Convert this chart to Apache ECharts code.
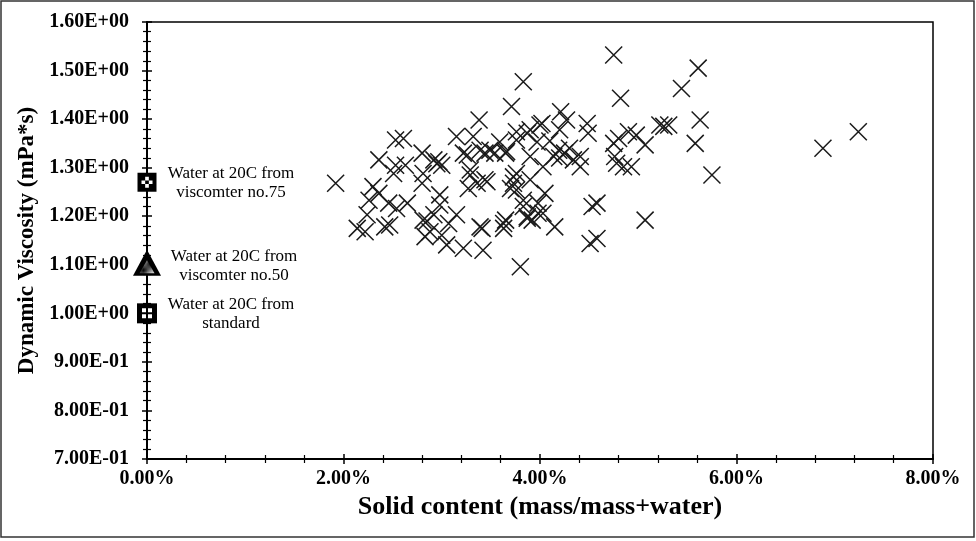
<!DOCTYPE html>
<html>
<head>
<meta charset="utf-8">
<script src="https://cdn.jsdelivr.net/npm/echarts@6/dist/echarts.min.js"></script>
<style>html,body{margin:0;padding:0;background:#fff;}#c{width:976px;height:541px;}</style>
</head>
<body>
<div id="c"></div>
<script>
// Solid content (%) and dynamic viscosity (mPa*s) of samples
const solidContent = [1.92,2.14,2.22,2.24,2.26,2.30,2.36,2.36,2.42,2.47,2.46,2.51,2.53,2.54,2.53,2.61,2.63,2.65,2.80,2.80,2.81,2.83,2.81,2.85,2.88,2.92,2.95,2.97,3.00,2.92,2.98,2.98,3.00,3.05,3.07,3.15,3.15,3.22,3.22,3.26,3.27,3.29,3.29,3.32,3.36,3.38,3.39,3.41,3.42,3.44,3.44,3.46,3.49,3.39,3.54,3.59,3.63,3.63,3.65,3.65,3.66,3.70,3.73,3.73,3.71,3.76,3.76,3.76,3.76,3.80,3.83,3.83,3.83,3.87,3.87,3.87,3.90,3.90,3.90,3.92,3.97,3.98,3.98,4.00,4.02,4.03,4.03,4.05,4.14,4.15,4.19,4.20,4.21,4.27,4.25,4.20,4.30,4.10,4.34,4.41,4.41,4.48,4.49,4.51,4.53,4.58,4.58,4.75,4.75,4.76,4.78,4.80,4.82,4.85,4.90,4.93,4.98,5.07,5.07,5.22,5.26,5.31,5.44,5.58,5.61,5.63,5.75,6.88,7.24];
const viscosity = [1.268,1.175,1.168,1.203,1.233,1.261,1.247,1.316,1.178,1.182,1.227,1.288,1.305,1.216,1.357,1.360,1.305,1.227,1.330,1.268,1.192,1.158,1.288,1.190,1.168,1.316,1.308,1.312,1.305,1.203,1.244,1.223,1.161,1.141,1.185,1.203,1.364,1.330,1.134,1.326,1.257,1.285,1.295,1.364,1.268,1.398,1.178,1.175,1.130,1.330,1.275,1.271,1.336,1.336,1.330,1.353,1.175,1.185,1.192,1.330,1.333,1.257,1.281,1.268,1.426,1.374,1.357,1.288,1.254,1.096,1.477,1.233,1.220,1.371,1.199,1.196,1.378,1.323,1.275,1.192,1.353,1.227,1.206,1.388,1.391,1.302,1.206,1.247,1.323,1.178,1.336,1.378,1.415,1.398,1.330,1.320,1.340,1.355,1.316,1.302,1.323,1.391,1.371,1.144,1.220,1.227,1.154,1.532,1.350,1.323,1.309,1.360,1.443,1.302,1.374,1.302,1.367,1.347,1.192,1.388,1.385,1.388,1.463,1.350,1.505,1.398,1.285,1.340,1.374];

// Reference water measurements at 0% solid content
const refX = [0, 0, 0];
const refY = [1.27, 1.10, 1.00];
const refLabels = ['Water at 20C from\nviscomter no.75', 'Water at 20C from\nviscomter no.50', 'Water at 20C from\nstandard'];

// Axis ticks
const xTicks = [0, 2, 4, 6, 8];
const yTicks = [0.7, 0.8, 0.9, 1.0, 1.1, 1.2, 1.3, 1.4, 1.5, 1.6];

function patternCanvas() {
  const c = document.createElement('canvas');
  c.width = 5; c.height = 5;
  const g = c.getContext('2d');
  g.fillStyle = '#fff'; g.fillRect(0, 0, 5, 5);
  g.strokeStyle = '#000'; g.lineWidth = 1.3;
  g.beginPath();
  g.moveTo(-1, 6); g.lineTo(6, -1);
  g.moveTo(-1, 1); g.lineTo(1, -1);
  g.moveTo(4, 6); g.lineTo(6, 4);
  g.stroke();
  return c;
}

function fmtY(v) {
  v = Math.round(v * 1e10) / 1e10;
  const e = Math.floor(Math.log10(v));
  const m = v / Math.pow(10, e);
  return m.toFixed(2) + 'E' + (e < 0 ? '-' : '+') + String(Math.abs(e)).padStart(2, '0');
}

const FONT = 'Liberation Serif';
const chart = echarts.init(document.getElementById('c'), null, { renderer: 'canvas' });

const pts = solidContent.map((x, i) => [x, viscosity[i]]);
const refPts = refX.map((x, i) => [x, refY[i]]);
const one = i => [refPts[i]];

const crossPath = 'path://M0,0L10,10M10,0L0,10';
const whiteQuads = 'path://M0,0h4v4h-4z M6,0h4v4h-4z M0,6h4v4h-4z M6,6h4v4h-4z';
const checkerWhite = 'path://M3,0h3v3h-3z M0,3h3v3h-3z M6,3h3v3h-3z M3,6h3v3h-3z';

const commonAxisX = { type: 'value', min: 0, max: 8, interval: 2, splitLine: { show: false } };
const commonAxisY = { type: 'value', min: 0.7, max: 1.6, interval: 0.1, splitLine: { show: false } };

chart.setOption({
  animation: false,
  backgroundColor: '#fff',
  grid: { left: 147, right: 43, top: 22, bottom: 82, show: true, borderColor: '#000', borderWidth: 1.5, backgroundColor: 'transparent' },
  graphic: [{ type: 'rect', shape: { x: 1, y: 1, width: 973, height: 536 }, style: { fill: 'none', stroke: '#333', lineWidth: 1.5 }, silent: true }],
  xAxis: [
    Object.assign({}, commonAxisX, {
      position: 'bottom',
      name: 'Solid content (mass/mass+water)', nameLocation: 'middle', nameGap: 35,
      nameTextStyle: { fontFamily: FONT, fontWeight: 'bold', fontSize: 26, color: '#000' },
      axisLine: { show: true, onZero: false, lineStyle: { color: '#000', width: 2 } },
      axisTick: { show: true, inside: false, length: 5, lineStyle: { color: '#000', width: 1.5 } },
      minorTick: { show: true, splitNumber: 5, length: 4, lineStyle: { color: '#000', width: 1.2 } },
      axisLabel: { margin: 10, fontFamily: FONT, fontWeight: 'bold', fontSize: 20, color: '#000', formatter: v => v.toFixed(2) + '%' }
    }),
    Object.assign({}, commonAxisX, {
      position: 'bottom', gridIndex: 0,
      axisLine: { show: false, onZero: false },
      axisTick: { show: true, inside: true, length: 5, lineStyle: { color: '#000', width: 1.5 } },
      minorTick: { show: true, splitNumber: 5, length: 4, lineStyle: { color: '#000', width: 1.2 } },
      axisLabel: { show: false }
    })
  ],
  yAxis: [
    Object.assign({}, commonAxisY, {
      position: 'left',
      name: 'Dynamic Viscosity (mPa*s)', nameLocation: 'middle', nameGap: 106,
      nameTextStyle: { fontFamily: FONT, fontWeight: 'bold', fontSize: 23, color: '#000' },
      axisLine: { show: true, onZero: false, lineStyle: { color: '#000', width: 2 } },
      axisTick: { show: true, inside: false, length: 5, lineStyle: { color: '#000', width: 1.5 } },
      minorTick: { show: true, splitNumber: 5, length: 4, lineStyle: { color: '#000', width: 1.2 } },
      axisLabel: { margin: 18, fontFamily: FONT, fontWeight: 'bold', fontSize: 20, color: '#000', formatter: fmtY }
    }),
    Object.assign({}, commonAxisY, {
      position: 'left', gridIndex: 0,
      axisLine: { show: false, onZero: false },
      axisTick: { show: true, inside: true, length: 5, lineStyle: { color: '#000', width: 1.5 } },
      minorTick: { show: true, splitNumber: 5, length: 4, lineStyle: { color: '#000', width: 1.2 } },
      axisLabel: { show: false }
    })
  ],
  series: [
    {
      type: 'scatter', data: pts, symbol: crossPath, symbolSize: 17,
      itemStyle: { color: 'rgba(0,0,0,0)', borderColor: '#1a1a1a', borderWidth: 1.5, opacity: 1 }, z: 3
    },
    // reference no.75 : checkered square
    { type: 'scatter', data: one(0), symbol: 'rect', symbolSize: 19, itemStyle: { color: '#000', opacity: 1 }, z: 5, clip: false },
    { type: 'scatter', data: one(0), symbol: checkerWhite, symbolSize: 11, itemStyle: { color: '#fff', opacity: 1 }, z: 6, clip: false },
    // reference no.50 : hatched triangle
    { type: 'scatter', data: one(1), symbol: 'triangle', symbolSize: [28, 26], symbolOffset: [0, -2], itemStyle: { color: '#000', opacity: 1 }, z: 5, clip: false },
    { type: 'scatter', data: one(1), symbol: 'triangle', symbolSize: [15, 13], symbolOffset: [0, 2], itemStyle: { color: { image: patternCanvas(), repeat: 'repeat' }, opacity: 1 }, z: 6, clip: false },
    // standard : square with white quadrants
    { type: 'scatter', data: one(2), symbol: 'rect', symbolSize: 20, itemStyle: { color: '#000', opacity: 1 }, z: 5, clip: false },
    { type: 'scatter', data: one(2), symbol: whiteQuads, symbolSize: 10, itemStyle: { color: '#fff', opacity: 1 }, z: 6, clip: false },
    // labels
    {
      type: 'scatter', symbolSize: 1, itemStyle: { color: 'rgba(0,0,0,0)', opacity: 1 }, z: 7, clip: false,
      data: refPts.map((p, i) => ({ value: p, name: refLabels[i], label: { offset: [i === 1 ? 87 : 84, 1] } })),
      label: {
        show: true, position: 'inside', formatter: p => p.name,
        fontFamily: FONT, fontSize: 17, lineHeight: 19, color: '#000', align: 'center', verticalAlign: 'middle'
      }
    }
  ]
});
</script>
</body>
</html>
